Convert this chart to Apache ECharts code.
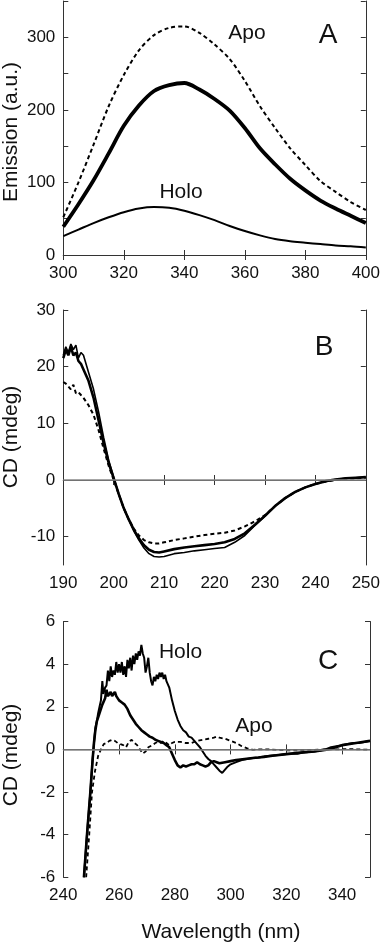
<!DOCTYPE html>
<html><head><meta charset="utf-8">
<script src="https://cdn.jsdelivr.net/npm/echarts@6/dist/echarts.min.js"></script>
<style>html,body{margin:0;padding:0;background:#fff}#c{width:383px;height:943px}</style>
</head><body><div id="c"></div>
<script>
// ---------- Panel A: emission ----------
const aWave = [300,305,310,315,320,325,330,335,340,345,350,355,360,365,370,375,380,385,390,395,400];
const aApo  = [52,100,152,205,248,282,303,313,315,306,290,270,240,205,175,147,124,102,87,73,62];
const aMid  = [39,70,103,140,178,206,226,234,237,228,215,199,175,147,125,105,89,75,64,54,44];
const aHolo = [26,35,44,52,59,64,66,65,61,55,48,40,33,27,22,19,17,15,13,12,10.5];
const aXTicks = [300,320,340,360,380,400];
const aYTicks = [0,50,100,150,200,250,300,350];
const aYLabels = [0,100,200,300];

// ---------- Panel B: far-UV CD ----------
const bWave = [190,190.5,191,191.5,192,192.5,193,193.5,194,195,196,197,198,199,200,201,202,203,204,205,206,207,208,209,210,212,214,216,218,220,222,224,226,228,230,232,234,236,238,240,242,244,246,248,250];
const bThin = [22,23.5,22.5,24,23,23.8,21.5,22.5,22,19,16,12,7.5,3.5,0.5,-2.5,-5,-7,-9,-10.6,-12,-13,-13.5,-13.6,-13.5,-13,-12.8,-12.5,-12.3,-12.1,-11.9,-11,-9.8,-8,-6.4,-4.6,-3.2,-2.1,-1.3,-0.7,-0.2,0.1,0.3,0.4,0.5];
const bThick = [21.5,23,22,23.5,22,22.5,21,20.5,19.5,17.5,14.5,10.5,6.5,3,0.3,-2.5,-5,-7,-8.8,-10.3,-11.5,-12.3,-12.7,-12.8,-12.6,-12.2,-11.9,-11.7,-11.5,-11.3,-11,-10.4,-9.4,-7.9,-6.3,-4.6,-3.2,-2.1,-1.3,-0.7,-0.2,0.1,0.3,0.4,0.5];
const bDash = [17.3,17,16.5,16,16.8,15.3,15.5,15,14.5,13.2,11.5,8.8,5.5,2.5,0,-2.5,-5,-7,-8.6,-9.8,-10.6,-11,-11.2,-11.2,-11,-10.6,-10.3,-10,-9.7,-9.5,-9.3,-8.9,-8.2,-7.3,-6.2,-4.6,-3.2,-2.1,-1.3,-0.7,-0.3,0,0.2,0.3,0.4];
const bXTicks = [190,200,210,220,230,240,250];
const bYTicks = [-10,0,10,20,30];

// ---------- Panel C: near-UV CD ----------
const cHoloWave = [247.4,248.5,249.7,250.5,251,251.5,252,252.5,253,253.5,254,254.4,255,255.5,256,256.5,257,257.5,258,258.5,259,259.5,260,260.5,261,261.5,262,262.5,263,263.5,264,264.5,265,265.5,266,266.5,267,267.5,268,268.5,269,269.5,270,270.5,271,271.5,272,272.5,273,273.5,274,274.5,275,275.5,276,276.5,277,278,279,280,281,282,283,284,285,286,287,288,289,290,291,292,293,294,295,296,297,298,299,300,302,304,306,308,310,312,314,316,318,320,322,324,326,328,330,332,334,336,338,340,342,344,346,348,350];
const cHoloVal = [-6,-4,-2,-0.5,0.3,1.0,1.3,1.7,2.0,2.3,3.2,2.6,2.9,3.0,3.7,3.2,3.9,3.4,3.7,3.5,4.1,3.6,4.0,3.6,4.1,3.5,3.9,3.4,4.2,3.8,4.3,3.7,4.4,4.0,4.5,4.2,4.6,4.4,4.9,4.5,4.3,3.6,3.9,4.3,3.6,3.2,3.0,3.4,3.2,3.5,3.3,3.6,3.4,3.6,3.3,3.5,3.2,2.9,2.3,1.8,1.4,1.1,0.9,0.8,0.6,0.55,0.4,0.25,0.1,-0.1,-0.3,-0.45,-0.55,-0.7,-0.85,-1.0,-1.1,-0.95,-0.8,-0.7,-0.6,-0.5,-0.45,-0.4,-0.38,-0.33,-0.3,-0.28,-0.25,-0.22,-0.2,-0.2,-0.15,-0.12,-0.1,-0.05,0,0.1,0.15,0.2,0.25,0.3,0.3,0.35,0.4];
const cMidWave = [247.4,248.5,249.7,250.5,251,251.5,252,253,254,255,255.5,256,256.5,257,257.5,258,258.5,259,260,261,262,263,264,265,266,267,268,269,270,271,272,273,274,275,276,277,278,279,280,281,282,283,284,285,286,287,288,289,290,291,292,293,294,295,296,298,300,302,305,308,310,312,315,320,325,330,335,340,345,350];
const cMidVal = [-6,-4,-2,-0.5,0.3,0.9,1.3,1.7,2.1,2.4,2.8,2.5,2.6,2.7,2.5,2.6,2.7,2.5,2.3,2.2,2.1,1.9,1.6,1.4,1.2,1.05,0.9,0.8,0.7,0.6,0.55,0.45,0.4,0.35,0.3,0.2,0.1,-0.2,-0.5,-0.75,-0.85,-0.75,-0.8,-0.75,-0.7,-0.7,-0.6,-0.7,-0.75,-0.8,-0.75,-0.6,-0.55,-0.6,-0.65,-0.6,-0.55,-0.5,-0.45,-0.4,-0.38,-0.35,-0.3,-0.22,-0.15,-0.1,0,0.2,0.3,0.4];
const cApoWave = [248.2,249.3,250.3,251.4,252.5,253.5,254.5,255.5,256.5,257.5,258.5,259.5,260.5,261.5,262.5,263.5,264.5,265.5,266.5,267.5,268.5,269.5,270.5,272,273,274,275,276,277,278,279,280,282,284,286,288,290,292,294,295,296,298,300,302,304,306,308,310,314,318,322,326,330,334,338,342,346,350];
const cApoVal = [-6,-4,-2,-1,-0.3,0,0.25,0.3,0.4,0.45,0.4,0.3,0.25,0.2,0.1,0.35,0.45,0.3,0.2,0,-0.2,-0.1,0.1,0.2,0.3,0.35,0.3,0.4,0.3,0.2,0.3,0.35,0.35,0.3,0.3,0.4,0.45,0.5,0.55,0.6,0.55,0.5,0.4,0.3,0.15,0.05,-0.02,0,0,-0.03,-0.05,-0.05,-0.02,0,0,0.02,0,-0.02];
const cXTicks = [240,260,280,300,320,340];
const cYTicks = [-6,-4,-2,0,2,4,6];

const FONT = '"Liberation Sans", Arial, sans-serif';
const AX = '#333';
const grids = [
  {left: 63.3, top: 1, width: 306, height: 254},
  {left: 63.3, top: 310, width: 306, height: 255},
  {left: 63.3, top: 621.5, width: 306.7, height: 255.8}
];
const ranges = [
  {xmin:300,xmax:400,ymin:0,ymax:350,xt:aXTicks,xl:aXTicks,yt:aYTicks,yl:aYLabels},
  {xmin:190,xmax:250,ymin:-15,ymax:30,xt:bXTicks,xl:bXTicks,yt:bYTicks,yl:bYTicks},
  {xmin:240,xmax:350,ymin:-6,ymax:6,xt:cXTicks,xl:cXTicks,yt:cYTicks,yl:cYTicks}
];
const xAxis = [], yAxis = [];
ranges.forEach((r, i) => {
  const lineS = {show: true, lineStyle: {color: AX, width: 1}};
  xAxis.push({type:'value', gridIndex:i, min:r.xmin, max:r.xmax, position:'bottom',
    axisLine: lineS, splitLine:{show:false},
    axisTick:{show:true, inside:true, length:5, customValues:r.xt, lineStyle:{color:AX}},
    axisLabel:{show:true, customValues:r.xl, margin:10, color:'#111', fontSize:17, fontFamily:FONT}});
  xAxis.push({type:'value', gridIndex:i, min:r.xmin, max:r.xmax, position:'top',
    axisLine: lineS, splitLine:{show:false},
    axisTick:{show:true, inside:true, length:5, customValues:r.xt, lineStyle:{color:AX}},
    axisLabel:{show:false}});
  yAxis.push({type:'value', gridIndex:i, min:r.ymin, max:r.ymax, position:'left',
    axisLine: lineS, splitLine:{show:false},
    axisTick:{show:true, inside:true, length:5, customValues:r.yt, lineStyle:{color:AX}},
    axisLabel:{show:true, customValues:r.yl, margin:8, color:'#111', fontSize:17, fontFamily:FONT}});
  yAxis.push({type:'value', gridIndex:i, min:r.ymin, max:r.ymax, position:'right',
    axisLine: lineS, splitLine:{show:false},
    axisTick:{show:true, inside:true, length:5, customValues:r.yt, lineStyle:{color:AX}},
    axisLabel:{show:false}});
});
const zip = (xs, ys) => xs.map((x, k) => [x, ys[k]]);
function line(panel, xs, ys, width, dashed, smooth) {
  return {type:'line', xAxisIndex: panel*2, yAxisIndex: panel*2, data: zip(xs, ys),
    symbol:'none', smooth: smooth || false, animation:false, z: 3,
    lineStyle:{color:'#000', width: width, type: dashed ? [4,3] : 'solid'}};
}
function zeroLine(panel) {
  return {type:'line', xAxisIndex: panel*2, yAxisIndex: panel*2, data: [], symbol:'none',
    animation:false, z:1,
    markLine:{silent:true, symbol:['none','none'], label:{show:false}, animation:false,
      lineStyle:{color:'#888', width:1.5, type:'solid'}, data:[{yAxis:0}]}};
}
const series = [
  line(0, aWave, aApo, 2, true, 0.3),
  line(0, aWave, aMid, 3.8, false, 0.3),
  line(0, aWave, aHolo, 2, false, 0.3),
  zeroLine(1),
  line(1, bWave, bDash, 2, true),
  line(1, bWave, bThin, 1.6, false),
  line(1, bWave, bThick, 2.6, false),
  zeroLine(2),
  line(2, cApoWave, cApoVal, 1.8, true),
  line(2, cMidWave, cMidVal, 2.6, false),
  line(2, cHoloWave, cHoloVal, 2, false)
];
function txt(t, x, y, size, rot) {
  return {type:'text', x: x, y: y, rotation: rot || 0, z: 10,
    style:{text:t, fill:'#111', font: size + 'px ' + FONT, align:'center', verticalAlign:'middle'}};
}
const graphic = [
  txt('Apo', 247, 33, 21), txt('A', 328, 35, 28), txt('Holo', 181, 192, 21),
  txt('B', 324, 347, 28),
  txt('C', 328, 661, 28), txt('Holo', 180.5, 652, 21), txt('Apo', 254, 726, 21),
  txt('Emission (a.u.)', 11, 132, 21, Math.PI/2),
  txt('CD (mdeg)', 11, 437, 21, Math.PI/2),
  txt('CD (mdeg)', 11, 755, 21, Math.PI/2),
  txt('Wavelength (nm)', 221, 932, 21)
];
const chart = echarts.init(document.getElementById('c'), null, {renderer:'canvas'});
chart.setOption({animation:false, backgroundColor:'#fff', grid: grids, xAxis, yAxis, series, graphic});
</script></body></html>
